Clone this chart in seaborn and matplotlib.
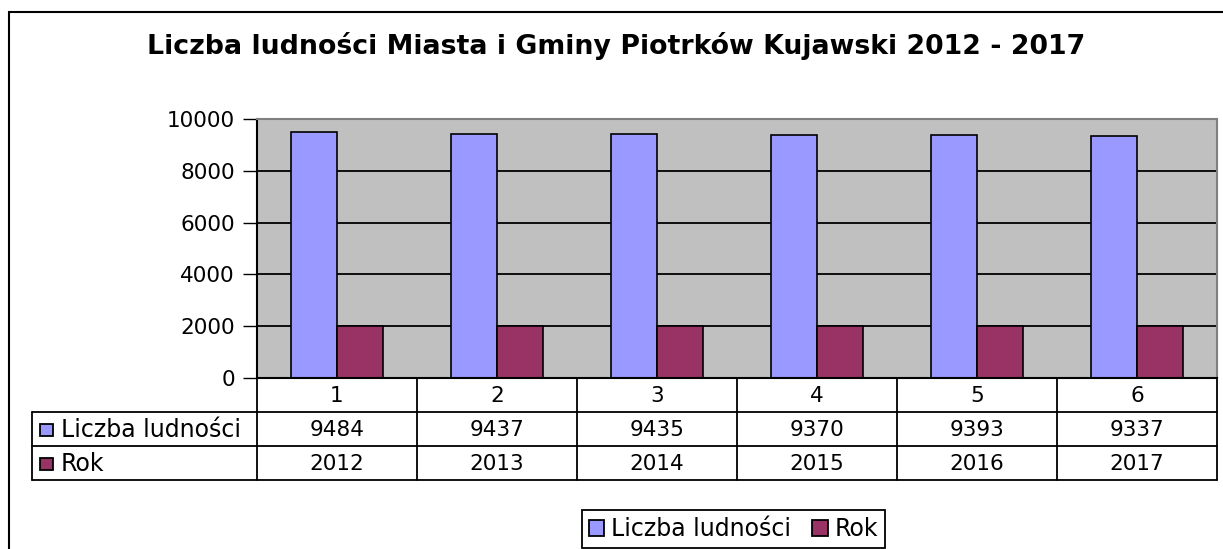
import pandas as pd
import matplotlib.pyplot as plt
import seaborn as sns
from matplotlib.patches import Patch, Rectangle

# dane
kategorie = ["1", "2", "3", "4", "5", "6"]
ludnosc = [9484, 9437, 9435, 9370, 9393, 9337]
rok = [2012, 2013, 2014, 2015, 2016, 2017]
serie = ["Liczba ludności", "Rok"]
kolory = ["#9999FF", "#993366"]

df = pd.DataFrame({
    "kat": kategorie * 2,
    "wartosc": ludnosc + rok,
    "seria": [serie[0]] * 6 + [serie[1]] * 6,
})

sns.set_style("white")
plt.rcParams["font.family"] = ["DejaVu Sans"]
plt.rcParams["text.color"] = "black"
plt.rcParams["ytick.color"] = "black"
plt.rcParams["ytick.labelcolor"] = "black"
FS = 15.5   # liczby
FS_TXT = 17  # nazwy serii

W, H = 1223, 549
fig = plt.figure(figsize=(W / 100, H / 100), dpi=100)
L, R, T, B = 257, 1217, 119, 378
ax = fig.add_axes([L / W, 1 - B / H, (R - L) / W, (B - T) / H])
ax.set_facecolor("#C0C0C0")

sns.barplot(data=df, x="kat", y="wartosc", hue="seria", palette=kolory, saturation=1,
            width=0.58, edgecolor="black", linewidth=1.2, ax=ax, legend=False)

ax.set_ylim(0, 10000)
ax.set_xlim(-0.5, 5.5)
ax.set_yticks(range(0, 10001, 2000))
ax.yaxis.grid(True, color="black", linewidth=1.3)
ax.set_axisbelow(True)
ax.tick_params(axis="y", direction="out", length=10, width=1, labelsize=FS, pad=6,
               left=True, colors="black")
ax.tick_params(axis="x", bottom=False, labelbottom=False)
ax.set_xlabel("")
ax.set_ylabel("")
for s in ["top", "right"]:
    ax.spines[s].set_color("#808080")
    ax.spines[s].set_linewidth(1.5)
ax.spines["left"].set_color("black")
ax.spines["left"].set_linewidth(1.5)
ax.spines["bottom"].set_color("black")
ax.spines["bottom"].set_linewidth(1.5)

# tabela danych pod wykresem
def fx(px):
    return (px - L) / (R - L)

def fy(py):
    return (B - py) / (B - T)

lw = 1.3
kw = dict(transform=ax.transAxes, clip_on=False, color="black", linewidth=lw)
for i in range(len(kategorie) + 1):
    x = L + i * (R - L) / len(kategorie)
    ax.plot([fx(x), fx(x)], [fy(378), fy(480)], **kw)
ax.plot([fx(32), fx(32)], [fy(412), fy(480)], **kw)
for y in [412, 446, 480]:
    ax.plot([fx(32), fx(R)], [fy(y), fy(y)], **kw)

wiersze = [ludnosc, rok]
for i, k in enumerate(kategorie):
    cx = fx(L + (i + 0.5) * (R - L) / len(kategorie))
    ax.text(cx, fy(396), k, transform=ax.transAxes, ha="center", va="center", fontsize=FS)
    for j, row in enumerate(wiersze):
        ax.text(cx, fy(430 + 34 * j), str(row[i]), transform=ax.transAxes,
                ha="center", va="center", fontsize=FS)
for j, name in enumerate(serie):
    yc = 430 + 34 * j
    ax.add_patch(Rectangle((fx(40), fy(yc + 6)), 13 / (R - L), 12 / (B - T),
                           transform=ax.transAxes, clip_on=False,
                           facecolor=kolory[j], edgecolor="black", linewidth=1.3))
    ax.text(fx(61), fy(yc), name, transform=ax.transAxes, ha="left", va="center", fontsize=FS_TXT)

fig.text(616.5 / W, 1 - 46 / H, "Liczba ludności Miasta i Gminy Piotrków Kujawski 2012 - 2017",
         ha="center", va="center", fontsize=19.3, fontweight="bold")

uchwyty = [Patch(facecolor=c, edgecolor="black", linewidth=1.3) for c in kolory]
leg = fig.legend(uchwyty, serie, loc="upper center", bbox_to_anchor=(733.5 / W, 1 - 510 / H),
                 ncol=2, fontsize=FS_TXT, frameon=True, fancybox=False, borderaxespad=0,
                 handlelength=0.65, handleheight=0.65, handletextpad=0.3, columnspacing=0.9,
                 borderpad=0.3, framealpha=1)
leg.get_frame().set_edgecolor("black")
leg.get_frame().set_linewidth(1.3)

# ramka wykresu
fig.patches.append(Rectangle((9 / W, -0.1), 1.2, 1.1 - 12 / H,
                             transform=fig.transFigure, fill=False,
                             edgecolor="black", linewidth=1.5))

plt.savefig("out.png", dpi=100)
plt.close()
